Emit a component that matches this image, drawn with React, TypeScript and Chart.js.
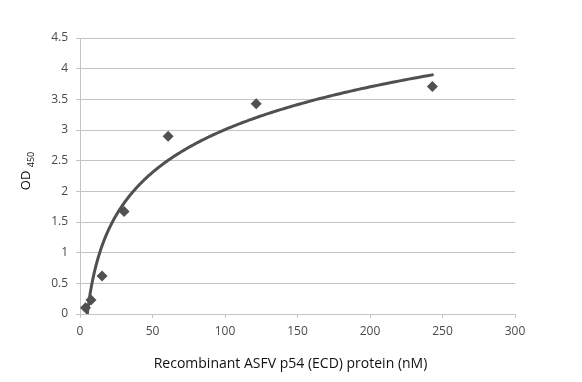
import React, { useEffect, useRef } from "react";
import { Chart, registerables } from "chart.js";

Chart.register(...registerables);

// Data
const concentrationsNM = [3.8, 7.6, 15.2, 30.4, 60.8, 121.5, 243];
const od450 = [0.1, 0.23, 0.62, 1.67, 2.9, 3.43, 3.71];
const xTickValues = [0, 50, 100, 150, 200, 250, 300];
const yTickValues = [0, 0.5, 1, 1.5, 2, 2.5, 3, 3.5, 4, 4.5];
const xTitle = "Recombinant ASFV p54 (ECD) protein (nM)";
const yTitleMain = "OD";
const yTitleSub = "450";

const INK = "#505050";
const GRID = "#c4c4c4";
const TICK_TEXT = "#4a4a4a";
const FONT = "'Open Sans', 'Noto Sans', sans-serif";

// Excel-style logarithmic trendline (least squares on ln x)
function logFit(xs: number[], ys: number[]) {
  const n = xs.length;
  const lx = xs.map((x) => Math.log(x));
  const mx = lx.reduce((a, b) => a + b, 0) / n;
  const my = ys.reduce((a, b) => a + b, 0) / n;
  let sxx = 0;
  let sxy = 0;
  for (let i = 0; i < n; i++) {
    sxx += (lx[i] - mx) * (lx[i] - mx);
    sxy += (lx[i] - mx) * (ys[i] - my);
  }
  const a = sxy / sxx;
  const b = my - a * mx;
  return { a, b };
}

export default function App() {
  const ref = useRef<HTMLCanvasElement | null>(null);

  useEffect(() => {
    document.body.style.margin = "0";
    const canvas = ref.current;
    if (!canvas) return;
    const fit = logFit(concentrationsNM, od450);

    const trendPlugin = {
      id: "trend",
      afterDatasetsDraw(chart: any) {
        const { ctx, chartArea, scales } = chart;
        const xs = scales.x;
        const ys = scales.y;
        const x0 = Math.min(...concentrationsNM);
        const x1 = Math.max(...concentrationsNM);
        ctx.save();
        ctx.beginPath();
        ctx.rect(chartArea.left, chartArea.top, chartArea.right - chartArea.left, chartArea.bottom - chartArea.top);
        ctx.clip();
        ctx.beginPath();
        const steps = 300;
        for (let i = 0; i <= steps; i++) {
          const lx = Math.log(x0) + ((Math.log(x1) - Math.log(x0)) * i) / steps;
          const xv = Math.exp(lx);
          const yv = fit.a * lx + fit.b;
          const px = xs.getPixelForValue(xv);
          const py = ys.getPixelForValue(yv);
          if (i === 0) ctx.moveTo(px, py);
          else ctx.lineTo(px, py);
        }
        ctx.strokeStyle = INK;
        ctx.lineWidth = 3;
        ctx.lineJoin = "round";
        ctx.lineCap = "round";
        ctx.stroke();
        ctx.restore();
      },
    };

    const titlePlugin = {
      id: "titles",
      afterDraw(chart: any) {
        const { ctx, chartArea } = chart;
        ctx.save();
        ctx.fillStyle = "#111111";
        // x title
        ctx.font = `14px ${FONT}`;
        ctx.textAlign = "center";
        ctx.textBaseline = "alphabetic";
        ctx.fillText(xTitle, (chartArea.left + chartArea.right) / 2 - 7, 368);
        // y title with subscript
        ctx.translate(30, 171);
        ctx.rotate(-Math.PI / 2);
        ctx.textAlign = "left";
        ctx.font = `13px ${FONT}`;
        const wMain = ctx.measureText(yTitleMain + " ").width;
        ctx.font = `9px ${FONT}`;
        const wSub = ctx.measureText(yTitleSub).width;
        const start = -(wMain + wSub) / 2;
        ctx.font = `13px ${FONT}`;
        ctx.fillText(yTitleMain, start, 0);
        ctx.font = `9px ${FONT}`;
        ctx.fillText(yTitleSub, start + wMain, 4);
        ctx.restore();
      },
    };

    const chart = new Chart(canvas, {
      type: "scatter",
      data: {
        datasets: [
          {
            data: concentrationsNM.map((x, i) => ({ x, y: od450[i] })),
            pointStyle: "rectRot",
            pointRadius: 5.5,
            pointHoverRadius: 5.5,
            backgroundColor: INK,
            borderColor: INK,
            borderWidth: 0,
          },
        ],
      },
      options: {
        responsive: false,
        animation: false,
        layout: { padding: { left: 0, right: 67, top: 38, bottom: 0 } },
        plugins: { legend: { display: false }, tooltip: { enabled: false } },
        scales: {
          x: {
            type: "linear",
            min: 0,
            max: 300,
            afterBuildTicks: (s: any) => {
              s.ticks = xTickValues.map((v) => ({ value: v }));
            },
            afterFit: (s: any) => {
              s.height = 68;
            },
            grid: { drawOnChartArea: false, tickLength: 4, color: GRID },
            border: { color: GRID },
            ticks: {
              padding: 6,
              color: TICK_TEXT,
              maxRotation: 0,
              font: { family: FONT, size: 12 },
              callback: (v: any) => String(v),
            },
          },
          y: {
            type: "linear",
            min: 0,
            max: 4.5,
            afterBuildTicks: (s: any) => {
              s.ticks = yTickValues.map((v) => ({ value: v }));
            },
            afterFit: (s: any) => {
              s.width = 80;
            },
            grid: { color: GRID, tickLength: 4 },
            border: { color: GRID },
            ticks: {
              padding: 8,
              color: TICK_TEXT,
              font: { family: FONT, size: 12 },
              callback: (v: any) => String(+v),
            },
          },
        },
      },
      plugins: [trendPlugin, titlePlugin],
    });
    return () => chart.destroy();
  }, []);

  return <canvas ref={ref} width={582} height={382} style={{ display: "block" }} />;
}
